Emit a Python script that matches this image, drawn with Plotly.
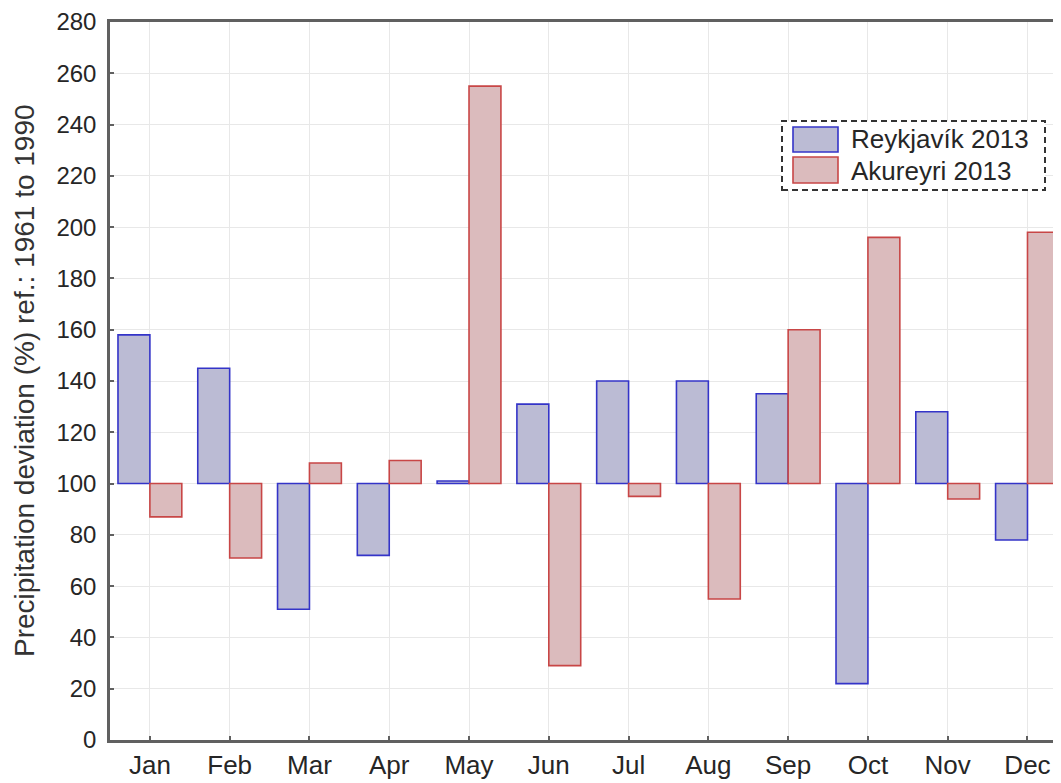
import plotly.graph_objects as go

months = ["Jan", "Feb", "Mar", "Apr", "May", "Jun", "Jul", "Aug", "Sep", "Oct", "Nov", "Dec"]
reykjavik = [158, 145, 51, 72, 101, 131, 140, 140, 135, 22, 128, 78]
akureyri = [87, 71, 108, 109, 255, 29, 95, 55, 160, 196, 94, 198]
y_ticks = list(range(0, 281, 20))
series_names = ["Reykjavík 2013", "Akureyri 2013"]
y_title = "Precipitation deviation (%) ref.: 1961 to 1990"

BASE = 100
x = list(range(len(months)))

blue_fill = "#bbbbd4"
blue_line = "#3434c8"
red_fill = "#dbbbbd"
red_line = "#c84646"
axis_col = "#606060"
text_col = "#262626"

fig = go.Figure()
fig.add_trace(go.Bar(
    x=x, y=[v - BASE for v in reykjavik], base=BASE, name=series_names[0],
    width=0.4, offset=-0.4,
    marker=dict(color=blue_fill, line=dict(color=blue_line, width=1.6)),
    showlegend=False,
))
fig.add_trace(go.Bar(
    x=x, y=[v - BASE for v in akureyri], base=BASE, name=series_names[1],
    width=0.4, offset=0.0,
    marker=dict(color=red_fill, line=dict(color=red_line, width=1.6)),
    showlegend=False,
))

font = "Liberation Sans, Arial, sans-serif"
# page has an 8px body margin, so the figure is sized to fit the 1061x783 window
fig.update_layout(
    width=1053, height=775,
    margin=dict(l=102, r=0, t=14, b=43),
    paper_bgcolor="white", plot_bgcolor="white",
    barmode="overlay",
    font=dict(family=font, size=24, color=text_col),
)
fig.update_xaxes(
    range=[-0.5, 11.42], tickmode="array", tickvals=x, ticktext=months,
    showgrid=True, gridcolor="#e8e8e8", gridwidth=1,
    showline=True, linecolor=axis_col, linewidth=2.5, mirror=True,
    ticks="inside", ticklen=4, tickcolor=axis_col, tickwidth=1.5,
    tickfont=dict(size=26, color=text_col), zeroline=False, automargin=False,
)
fig.update_yaxes(
    range=[0, 280], tickmode="array", tickvals=y_ticks,
    showgrid=True, gridcolor="#e8e8e8", gridwidth=1,
    showline=True, linecolor=axis_col, linewidth=2.5, mirror=True,
    ticks="inside", ticklen=4, tickcolor=axis_col, tickwidth=1.5,
    tickfont=dict(size=24, color=text_col), zeroline=False, automargin=False,
    ticklabelstandoff=6,
)

def px_x(p):
    return (p - 110) / 951.0

def px_y(p):
    return (740 - p) / 718.0

fig.add_annotation(xref="paper", yref="paper", x=px_x(24), y=0.5, text=y_title,
                   textangle=-90, showarrow=False, xanchor="center", yanchor="middle",
                   font=dict(size=28, color="#333333"))

# Legend drawn as a dashed box with swatches
fig.add_shape(type="rect", xref="paper", yref="paper",
              x0=px_x(782), x1=px_x(1045), y0=px_y(190), y1=px_y(121),
              line=dict(color="#333333", width=2, dash="6px,4px"), fillcolor="white")
fig.add_shape(type="rect", xref="paper", yref="paper",
              x0=px_x(793), x1=px_x(838), y0=px_y(152), y1=px_y(127),
              line=dict(color=blue_line, width=1.6), fillcolor=blue_fill)
fig.add_shape(type="rect", xref="paper", yref="paper",
              x0=px_x(793), x1=px_x(838), y0=px_y(183), y1=px_y(157),
              line=dict(color=red_line, width=1.6), fillcolor=red_fill)
fig.add_annotation(xref="paper", yref="paper", x=px_x(849), y=px_y(139),
                   text=series_names[0], showarrow=False, xanchor="left", yanchor="middle",
                   font=dict(size=26, color=text_col))
fig.add_annotation(xref="paper", yref="paper", x=px_x(849), y=px_y(171),
                   text=series_names[1], showarrow=False, xanchor="left", yanchor="middle",
                   font=dict(size=26, color=text_col))

fig.write_html("out.html")
